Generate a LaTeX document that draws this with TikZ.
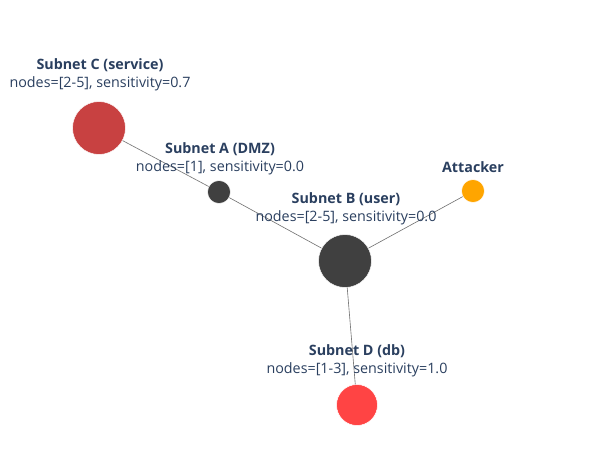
\documentclass[tikz,border=0pt]{standalone}
\usepackage{fontspec}
\setmainfont{Open Sans}
\definecolor{txt}{HTML}{2A3F5F}
\definecolor{cRed}{HTML}{C84141}
\definecolor{dRed}{HTML}{FF4444}
\definecolor{dark}{HTML}{404040}
\definecolor{orng}{HTML}{FFA500}
\definecolor{edge}{HTML}{707070}
\begin{document}
\begin{tikzpicture}[x=1pt,y=-1pt,
  dot/.style={circle,inner sep=0pt,draw=white,line width=0.5pt},
  lbl/.style={text=txt,font=\fontsize{14.3}{18}\selectfont,align=center,inner sep=0pt},
  link/.style={draw=edge,line width=0.6pt}]
\useasboundingbox (0,0) rectangle (598,472);
\fill[white] (0,0) rectangle (598,472);
\node[dot,fill=cRed,minimum size=53pt] (C) at (99,128) {};
\node[dot,fill=dark,minimum size=23pt] (A) at (219,192) {};
\node[dot,fill=dark,minimum size=53pt] (B) at (345,261) {};
\node[dot,fill=orng,minimum size=23pt] (K) at (473,191) {};
\node[dot,fill=dRed,minimum size=41pt] (D) at (357,405) {};
\draw[link] (C) -- (A);
\draw[link] (A) -- (B);
\draw[link] (B) -- (K);
\draw[link] (B) -- (D);
\node[lbl] (lC) at (100,75) {\textbf{Subnet C (service)}\\nodes=[2-5], sensitivity=0.7};
\node[lbl] (lA) at (220,158.5) {\textbf{Subnet A (DMZ)}\\nodes=[1], sensitivity=0.0};
\node[lbl] (lB) at (346,208.5) {\textbf{Subnet B (user)}\\nodes=[2-5], sensitivity=0.0};
\node[lbl,font=\fontsize{14.3}{18}\selectfont\bfseries] (lK) at (473,167) {Attacker};
\node[lbl] (lD) at (357,361) {\textbf{Subnet D (db)}\\nodes=[1-3], sensitivity=1.0};
\end{tikzpicture}
\end{document}
